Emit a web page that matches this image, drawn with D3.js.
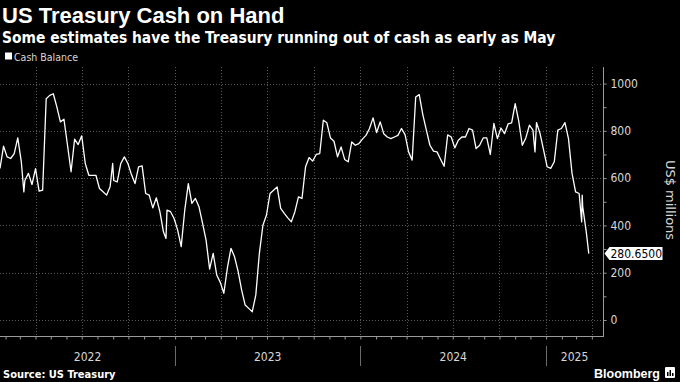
<!DOCTYPE html>
<html><head><meta charset="utf-8">
<script src="https://cdn.jsdelivr.net/npm/d3@7"></script>
<style>
html,body{margin:0;padding:0;background:#000;}
svg{display:block;}
</style></head>
<body>
<svg id="chart" width="680" height="382"></svg>
<script>
const title = "US Treasury Cash on Hand";
const subtitle = "Some estimates have the Treasury running out of cash as early as May";
const seriesName = "Cash Balance";
const yAxisTitle = "US$ millions";
const sourceText = "Source: US Treasury";
const lastLabel = "280.6500";

const dates = [
"2022-01-21","2022-01-28","2022-02-04","2022-02-11","2022-02-18","2022-02-25","2022-03-04","2022-03-09","2022-03-11","2022-03-18","2022-03-25",
"2022-04-01","2022-04-08","2022-04-15","2022-04-22","2022-04-29","2022-05-06","2022-05-13","2022-05-20","2022-05-27","2022-06-03",
"2022-06-10","2022-06-17","2022-06-24","2022-07-01","2022-07-08","2022-07-15","2022-07-22","2022-07-29","2022-08-05","2022-08-12",
"2022-08-19","2022-08-26","2022-08-31","2022-09-02","2022-09-09","2022-09-16","2022-09-23","2022-09-30","2022-10-07","2022-10-14","2022-10-21",
"2022-10-28","2022-11-04","2022-11-11","2022-11-18","2022-11-25","2022-12-02","2022-12-09","2022-12-14","2022-12-16","2022-12-23","2022-12-30",
"2023-01-06","2023-01-13","2023-01-20","2023-01-27","2023-02-03","2023-02-10","2023-02-17","2023-02-24","2023-03-03","2023-03-10",
"2023-03-17","2023-03-24","2023-03-31","2023-04-07","2023-04-14","2023-04-21","2023-04-28","2023-05-05","2023-05-12","2023-05-19",
"2023-05-26","2023-06-02","2023-06-09","2023-06-16","2023-06-23","2023-06-30","2023-07-07","2023-07-14","2023-07-21","2023-07-28",
"2023-08-04","2023-08-11","2023-08-18","2023-08-25","2023-09-01","2023-09-08","2023-09-15","2023-09-22","2023-09-29","2023-10-06",
"2023-10-13","2023-10-20","2023-10-27","2023-11-03","2023-11-10","2023-11-17","2023-11-24","2023-12-01","2023-12-08","2023-12-15",
"2023-12-22","2023-12-29","2024-01-05","2024-01-12","2024-01-19","2024-01-26","2024-02-02","2024-02-09","2024-02-16","2024-02-23",
"2024-03-01","2024-03-08","2024-03-15","2024-03-22","2024-03-29","2024-04-05","2024-04-12","2024-04-19","2024-04-26","2024-05-03",
"2024-05-10","2024-05-17","2024-05-24","2024-05-31","2024-06-07","2024-06-14","2024-06-21","2024-06-28","2024-07-05","2024-07-12",
"2024-07-19","2024-07-26","2024-08-02","2024-08-09","2024-08-16","2024-08-23","2024-08-30","2024-09-06","2024-09-13","2024-09-20",
"2024-09-27","2024-10-04","2024-10-11","2024-10-18","2024-10-25","2024-11-01","2024-11-08","2024-11-15","2024-11-22","2024-11-29",
"2024-12-06","2024-12-10","2024-12-13","2024-12-20","2024-12-27","2025-01-03","2025-01-10","2025-01-17","2025-01-24","2025-01-31","2025-02-07",
"2025-02-14","2025-02-21","2025-02-28","2025-03-07","2025-03-12","2025-03-13","2025-03-14","2025-03-21","2025-03-26"
];

const cashBalance = [
641,735,690,683,704,770,669,542,590,620,573,
640,545,549,936,950,957,901,838,849,739,
627,765,742,779,662,612,612,612,556,542,
528,565,662,590,584,662,690,662,615,577,648,
652,535,528,474,517,458,373,345,465,458,429,
380,310,465,577,493,514,479,410,338,215,
282,190,159,113,220,303,268,207,127,63,
49,35,106,282,401,444,535,549,563,472,
451,432,415,458,521,514,648,687,672,700,
704,845,834,770,756,690,732,679,669,753,
739,746,765,781,810,855,793,838,788,774,
767,774,781,810,784,711,676,943,953,869,
803,739,714,711,680,650,783,774,728,760,
774,774,810,803,725,739,770,770,700,831,
767,812,788,829,834,915,841,739,770,824,
803,711,835,788,718,648,641,669,803,810,835,
767,620,542,535,415,528,480,373,280.65
];

const yTicks = [0, 200, 400, 600, 800, 1000];
const yMinorTicks = [100, 300, 500, 700, 900];
const yearLabels = ["2022", "2023", "2024", "2025"];
const xDomain = ["2022-01-21", "2025-04-23"];
const yDomain = [-72, 1070];

const parse = d3.timeParse("%Y-%m-%d");
const data = dates.map((d, i) => ({date: parse(d), value: cashBalance[i]}));

const svg = d3.select("#chart");
const W = 680, H = 382;
const plot = {left: 0, right: 603, top: 67, bottom: 336};

svg.append("rect").attr("width", W).attr("height", H).attr("fill", "#000");

const x = d3.scaleTime().domain(xDomain.map(parse)).range([plot.left, plot.right]);
const y = d3.scaleLinear().domain(yDomain).range([plot.bottom + 1, plot.top]);

// titles
svg.append("text").attr("x", 2).attr("y", 23)
  .attr("fill", "#fff").attr("font-family", "Liberation Sans, Arial, sans-serif")
  .attr("font-weight", "bold").attr("font-size", 22).text(title);
svg.append("text").attr("x", 2).attr("y", 42.5)
  .attr("fill", "#fff").attr("font-family", "DejaVu Sans Condensed, DejaVu Sans, sans-serif")
  .attr("font-weight", "bold").attr("font-size", 15.4).text(subtitle);

// legend
svg.append("rect").attr("x", 5).attr("y", 52.5).attr("width", 7).attr("height", 7).attr("fill", "#fff");
svg.append("text").attr("x", 14).attr("y", 61)
  .attr("fill", "#d8d8d8").attr("font-family", "DejaVu Sans Condensed, DejaVu Sans, sans-serif")
  .attr("font-size", 10.5).text(seriesName);

// gridlines
const grid = svg.append("g");
grid.selectAll("line.h").data(yTicks).join("line")
  .attr("x1", plot.left).attr("x2", plot.right)
  .attr("y1", d => Math.round(y(d)) + 0.5).attr("y2", d => Math.round(y(d)) + 0.5)
  .attr("stroke", "#5a5a5a").attr("stroke-width", 1).attr("stroke-dasharray", "1,2");
const quarters = d3.timeMonth.every(3).range(x.domain()[0], x.domain()[1]);
grid.selectAll("line.v").data(quarters).join("line")
  .attr("x1", d => Math.round(x(d)) + 0.5).attr("x2", d => Math.round(x(d)) + 0.5)
  .attr("y1", plot.top).attr("y2", plot.bottom)
  .attr("stroke", "#5a5a5a").attr("stroke-width", 1).attr("stroke-dasharray", "1,2");

// y axis (right)
const yAxis = d3.axisRight(y).tickValues(yTicks).tickSize(3).tickPadding(4).tickFormat(d3.format("d"));
const gy = svg.append("g").attr("transform", `translate(${plot.right + 0.5},0)`).call(yAxis);
gy.select(".domain").attr("d", `M0,${plot.top}V${plot.bottom + 1}`).attr("stroke", "#9a9a9a");
gy.selectAll(".tick line").attr("stroke", "#9a9a9a");
gy.selectAll(".tick text").attr("fill", "#d8d8d8").attr("font-size", 12)
  .attr("font-family", "DejaVu Sans Condensed, DejaVu Sans, sans-serif");
const gyMinor = svg.append("g").attr("transform", `translate(${plot.right + 0.5},0)`)
  .call(d3.axisRight(y).tickValues(yMinorTicks).tickSize(3).tickFormat(""));
gyMinor.select(".domain").remove();
gyMinor.selectAll(".tick line").attr("stroke", "#9a9a9a");

svg.append("text")
  .attr("transform", `translate(666,${200}) rotate(90)`)
  .attr("text-anchor", "middle")
  .attr("fill", "#d8d8d8").attr("font-family", "DejaVu Sans, sans-serif")
  .attr("font-size", 13).text(yAxisTitle);

// x axis
const months = d3.timeMonth.range(x.domain()[0], x.domain()[1]);
const xAxis = d3.axisBottom(x).tickValues(months).tickSize(3).tickFormat("");
const gx = svg.append("g").attr("transform", `translate(0,${plot.bottom + 0.5})`).call(xAxis);
gx.select(".domain").attr("d", `M${plot.left},0H${plot.right + 0.5}`).attr("stroke", "#9a9a9a");
gx.selectAll(".tick line").attr("stroke", "#9a9a9a");

const yearStarts = yearLabels.map(yl => parse(yl + "-01-01"));
svg.selectAll("line.year").data(yearStarts.slice(1)).join("line")
  .attr("x1", d => Math.round(x(d)) + 0.5).attr("x2", d => Math.round(x(d)) + 0.5)
  .attr("y1", 346).attr("y2", 366).attr("stroke", "#6a6a6a");
svg.selectAll("text.year").data(yearLabels).join("text")
  .attr("x", (d, i) => {
    const a = Math.max(plot.left, x(yearStarts[i]));
    const b = i < yearLabels.length - 1 ? x(yearStarts[i + 1]) : plot.right;
    return (a + b) / 2;
  })
  .attr("y", 361).attr("text-anchor", "middle")
  .attr("fill", "#d8d8d8").attr("font-family", "DejaVu Sans Condensed, DejaVu Sans, sans-serif")
  .attr("font-size", 12).text(d => d);

// line
const line = d3.line().x(d => x(d.date)).y(d => y(d.value));
svg.append("path").datum(data).attr("d", line)
  .attr("fill", "none").attr("stroke", "#fff").attr("stroke-width", 1.3)
  .attr("stroke-linejoin", "round");

// last value label
const last = data[data.length - 1];
const ly = y(last.value);
const lx = plot.right + 1.5;
svg.append("path")
  .attr("d", `M${lx},${ly}L${lx + 5},${ly - 6.5}H${lx + 58}V${ly + 6.5}H${lx + 5}Z`)
  .attr("fill", "#fff");
svg.append("text").attr("x", lx + 6).attr("y", ly + 4.3)
  .attr("fill", "#000").attr("font-family", "DejaVu Sans Condensed, DejaVu Sans, sans-serif")
  .attr("font-size", 12).text(lastLabel);

// footer
svg.append("text").attr("x", 3).attr("y", 378)
  .attr("fill", "#fff").attr("font-family", "DejaVu Sans Condensed, DejaVu Sans, sans-serif")
  .attr("font-weight", "bold").attr("font-size", 11).text(sourceText);
svg.append("text").attr("x", 660).attr("y", 378).attr("text-anchor", "end")
  .attr("fill", "#fff").attr("font-family", "Liberation Sans, Arial, sans-serif")
  .attr("font-weight", "bold").attr("font-size", 12.5).text("Bloomberg");
const logo = svg.append("g").attr("transform", "translate(665,367)");
logo.append("rect").attr("width", 10).attr("height", 11).attr("rx", 1).attr("fill", "#fff");
[[2, 5, 4], [4.5, 3, 6], [7, 6, 3]].forEach(([bx, by, bh]) =>
  logo.append("rect").attr("x", bx).attr("y", by).attr("width", 1.5).attr("height", bh).attr("fill", "#000"));
</script>
</body></html>
